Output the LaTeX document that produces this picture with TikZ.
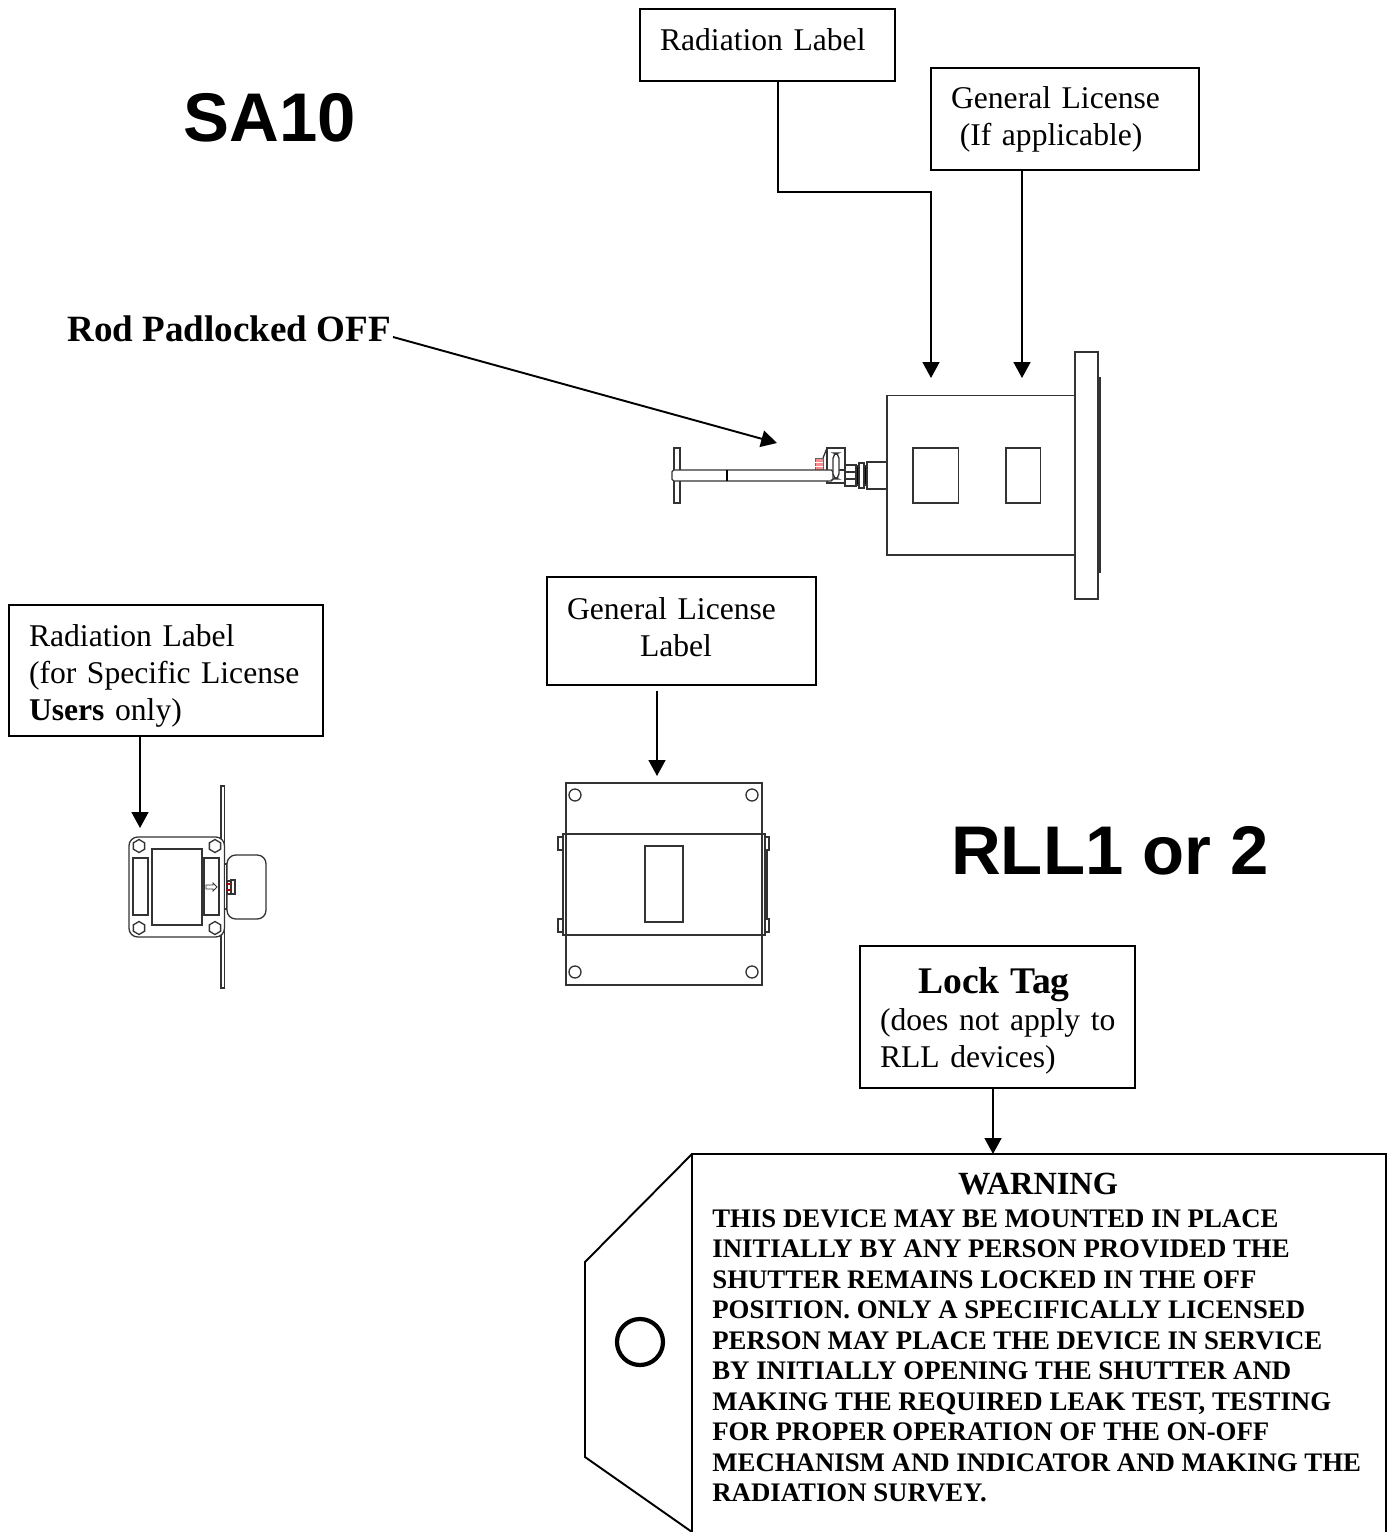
\documentclass[tikz,border=0pt]{standalone}
\usepackage{fontspec}
\setmainfont{Liberation Serif}
\setsansfont{Liberation Sans}
\usetikzlibrary{arrows.meta,shapes.geometric}
\tikzset{
  labelbox/.style={draw, line width=1.2pt, inner xsep=0.4cm, inner ysep=0pt, outer sep=0pt, align=left, font=\fontsize{18}{21}\selectfont},
  bigtitle/.style={font=\sffamily\bfseries\fontsize{39.2}{44}\selectfont, inner sep=0pt},
  callout/.style={->, line width=1.1pt},
  part/.style={line width=0.75pt, fill=white, draw=black!80},
}
\begin{document}
\begin{tikzpicture}[x=0.02cm, y=-0.02cm, >={Stealth[inset=0pt,length=9pt,width=9.5pt]}]
  \useasboundingbox (0,0) rectangle (1387,1532);
  % titles
  \node[bigtitle] (sa) at (269.5,118) {SA10};
  \node[bigtitle] (rll) at (1110,851) {RLL1 or 2};
  \node[inner sep=0pt, font=\bfseries\fontsize{21.1}{25}\selectfont] (rod) at (229,329) {Rod Padlocked OFF};
  % boxes
  \node[labelbox, minimum width=5.1cm, minimum height=1.44cm, text width=4.3cm, text depth=5.7pt] (radbox) at (767.5,45) {Radiation Label};
  \node[labelbox, minimum width=5.36cm, minimum height=2.04cm, text width=4.56cm] (genbox) at (1065,119) {General License\\\hspace{5pt}(If applicable)};
  \node[labelbox, minimum width=5.38cm, minimum height=2.16cm, text width=4.58cm, text depth=26pt] (labbox) at (681.5,631) {General License\\\hspace*{1.46cm}Label};
  \node[labelbox, minimum width=6.28cm, minimum height=2.62cm, text width=5.48cm, text height=18.5pt] (specbox) at (166,670.5) {Radiation Label\\(for Specific License\\\textbf{Users} only)};
  \node[labelbox, minimum width=5.5cm, minimum height=2.84cm, text width=4.7cm, text height=19pt] (lockbox) at (997.5,1017) {\hfill\textbf{\fontsize{21.4}{23}\selectfont Lock Tag}\hspace{4pt}\hfill\null\\\mbox{(does not apply to}\\RLL devices)};
  % device 1
  \draw[part] (1098,378) rectangle (1100,572);
  \draw[part] (1075,352) rectangle (1098,599);
  \draw[part] (887,395.5) rectangle (1075,555);
  \draw[part] (913,448) rectangle (958.5,503);
  \draw[part] (1006,448) rectangle (1040.5,503);
  \draw[part] (867,462) rectangle (887,489);
  \draw[part, fill=black] (856,466) rectangle (867,485);
  \draw[part] (859,463) rectangle (864,488);
  \draw[part] (845,465) rectangle (856,486);
  \draw[part] (845,472) -- (856,472) (845,479) -- (856,479);
  \draw[part] (674,448) rectangle (680,503);
  \draw[draw=black!60, fill=red!45, line width=0.5pt] (815,458) rectangle (823,470);
  \draw[white, line width=0.5pt] (815,462) -- (823,462) (815,466) -- (823,466);
  \draw[part] (823,458) -- (827,448);
  \draw[part] (827,448) rectangle (845,483);
  \draw[part, rounded corners=1pt] (672,470) rectangle (833,481);
  \draw[line width=1.2pt] (727,470) -- (727,481);
  \draw[part] (839,470) -- (845,470);
  \draw[part, rounded corners=3pt] (833,453) rectangle (839,479);
  % device 2
  \draw[part] (221,786) rectangle (224.5,988);
  \draw[part, rounded corners=5pt] (129,837) -- (224.5,837) -- (224.5,937) -- (129,937) -- cycle;
  \foreach \hx/\hy in {139/846,215/846,139/928,215/928}
    \draw[part] (\hx,\hy-6.5) -- (\hx+5.6,\hy-3.2) -- (\hx+5.6,\hy+3.2) -- (\hx,\hy+6.5) -- (\hx-5.6,\hy+3.2) -- (\hx-5.6,\hy-3.2) -- cycle;
  \draw[part] (133,858) rectangle (148,915);
  \draw[part] (152,849) rectangle (202,925);
  \draw[part] (204,858) rectangle (219,915);
  \draw[part, line width=0.5pt] (206,885) -- (213,885) -- (213,883) -- (217,887) -- (213,891) -- (213,889) -- (206,889) -- cycle;
  \draw[part] (224.5,864) rectangle (227,909);
  \draw[part, rounded corners=5pt] (227,855) rectangle (266,919);
  \draw[part] (227,881) rectangle (235,894);
  \draw[part] (231,880) rectangle (235,894);
  \draw[red!70!black, line width=0.8pt] (227,884) -- (231,884) (227,890) -- (231,890);
  % device 3
  \foreach \by in {837,919} {
    \draw[part] (558,\by) rectangle (563,\by+13);
    \draw[part] (765,\by) rectangle (769,\by+13);
  }
  \draw[part] (765,850) -- (767,850) -- (767,919) -- (765,919);
  \draw[part] (566,783) rectangle (762,985);
  \foreach \hx/\hy in {575/795,752/795,575/972,752/972}
    \draw[part] (\hx,\hy) circle[radius=6];
  \draw[part, fill=none] (563,834) rectangle (765,935);
  \draw[part] (645,846) rectangle (683,922);
  % tag
  \draw[line width=1.1pt] (692,1532) -- (692,1154) -- (1386,1154) -- (1386,1532);
  \draw[line width=1.1pt] (692,1154) -- (585,1262) -- (585,1457) -- (692,1532);
  \draw[line width=2.4pt] (640,1342) circle[radius=23];
  \node[inner sep=0pt, font=\bfseries\fontsize{18.4}{21}\selectfont] (warn) at (1038,1184) {WARNING};
  \node[inner sep=0pt, anchor=north west, align=left, font=\bfseries\fontsize{15.25}{17.38}\selectfont] (warntext) at (712,1209) {THIS DEVICE MAY BE MOUNTED IN PLACE\\
INITIALLY BY ANY PERSON PROVIDED THE\\
SHUTTER REMAINS LOCKED IN THE OFF\\
POSITION. ONLY A SPECIFICALLY LICENSED\\
PERSON MAY PLACE THE DEVICE IN SERVICE\\
BY INITIALLY OPENING THE SHUTTER AND\\
MAKING THE REQUIRED LEAK TEST, TESTING\\
FOR PROPER OPERATION OF THE ON-OFF\\
MECHANISM AND INDICATOR AND MAKING THE\\
RADIATION SURVEY.};
  % connectors
  \coordinate (radturn) at (778,192);
  \coordinate (radend) at (931,378);
  \coordinate (genend) at (1022,378);
  \coordinate (rodend) at (777,443);
  \coordinate (labstart) at (657,691);
  \coordinate (labend) at (657,776);
  \coordinate (specend) at (140,828);
  \coordinate (lockend) at (993,1154);
  \draw[callout] (radbox.south -| radturn) -- (radturn) -| (radend);
  \draw[callout] (genbox.south -| genend) -- (genend);
  \draw[callout] (rod.east) ++(2,8) -- (rodend);
  \draw[callout] (labstart) -- (labend);
  \draw[callout] (specbox.south -| specend) -- (specend);
  \draw[callout] (lockbox.south -| lockend) -- (lockend);
\end{tikzpicture}
\end{document}
